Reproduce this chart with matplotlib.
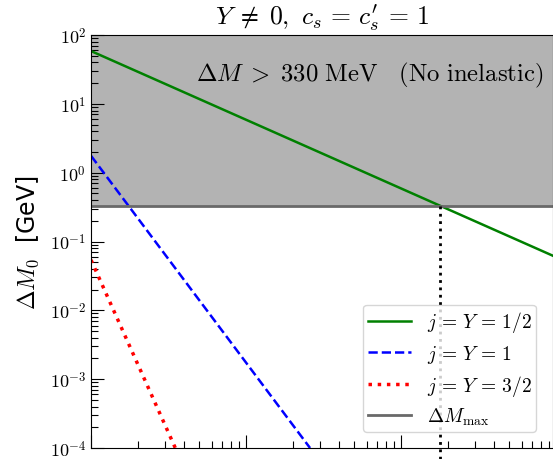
import matplotlib
matplotlib.use("Agg")
import matplotlib.pyplot as plt
from matplotlib.ticker import FuncFormatter, LogLocator
import numpy as np

plt.rcParams['mathtext.fontset'] = 'cm'

# endpoints of the power-law curves (straight on log-log axes)
x_ends = [10.0, 9570.0]
dm_half = [58.5, 0.062]          # j = Y = 1/2
x_one = [10.0, 259.0]
dm_one = [1.76, 1e-4]            # j = Y = 1
x_three_half = [10.0, 35.0]
dm_three_half = [0.054, 1e-4]    # j = Y = 3/2

dm_max = 0.33     # GeV
x_cross = 1780.0  # where the j = 1/2 curve hits dm_max

fig = plt.figure(figsize=(5.53, 4.60), dpi=100)
ax = fig.add_axes([91 / 553, 11 / 460, 462 / 553, 413 / 460])

ax.axhspan(dm_max, 1e2, color='0.7', lw=0, zorder=0)
ax.plot(x_ends, dm_half, color='green', lw=1.8, label=r'$j\, =\, Y\, =\, 1/2$')
ax.plot(x_one, dm_one, color='blue', lw=1.8, ls='--', label=r'$j\, =\, Y\, =\, 1$')
ax.plot(x_three_half, dm_three_half, color='red', lw=2.5, ls=':', label=r'$j\, =\, Y\, =\, 3/2$')
ax.axhline(dm_max, color='dimgray', lw=2, label=r'$\Delta M_{\rm max}$')
ax.plot([x_cross, x_cross], [dm_max, 1e-5], color='black', lw=2, ls=':', clip_on=False)

ax.set_xscale('log')
ax.set_yscale('log')
ax.set_xlim(10, 9570)
ax.set_ylim(1e-4, 1e2)

ax.yaxis.set_major_locator(LogLocator(base=10, numticks=10))
ax.yaxis.set_minor_locator(LogLocator(base=10, subs=np.arange(2, 10), numticks=20))
ax.yaxis.set_major_formatter(FuncFormatter(lambda v, p: r'$10^{%d}$' % round(np.log10(v))))
ax.tick_params(which='major', direction='in', length=9.5, width=0.8, labelsize=13)
ax.tick_params(which='minor', direction='in', length=5, width=0.8)
ax.tick_params(axis='x', labelbottom=False)

ax.set_ylabel(r'$\Delta M_0$  [GeV]', fontsize=17, labelpad=6)
ax.set_title(r"$Y\; \neq\; 0,\ c_s\, =\, c_s^{\prime}\, =\, 1$", fontsize=18.5, pad=8)

ax.text(0.603, 0.905, r'$\Delta M\; >\; 330\ \mathrm{MeV}\ \ \ \mathrm{(No\ inelastic)}$',
        transform=ax.transAxes, ha='center', va='center', fontsize=17.8)

ax.legend(loc='lower right', fontsize=14, bbox_to_anchor=(0.985, 0.015),
          handlelength=2.2, borderpad=0.25, labelspacing=0.42)

fig.savefig('out.png', dpi=100)
